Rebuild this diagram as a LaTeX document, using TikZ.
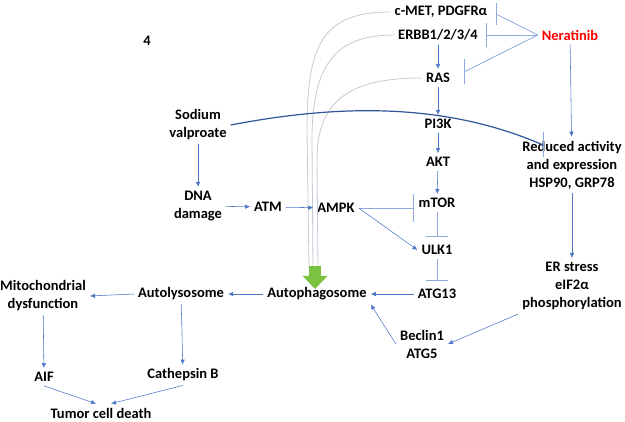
\documentclass[tikz,border=0pt]{standalone}
\usepackage{fontspec}
\setmainfont{Carlito}
\usepackage{tikz}
\usetikzlibrary{arrows.meta}
\definecolor{arrowblue}{HTML}{4A76C6}
\definecolor{inhblue}{HTML}{8EA9DB}
\definecolor{feedgray}{HTML}{C3CAD4}
\definecolor{valpblue}{HTML}{2F5597}
\definecolor{autogreen}{HTML}{7CC242}
\definecolor{nerared}{HTML}{FF0000}
\tikzstyle{lbl}=[inner sep=4pt,align=center,font=\fontsize{14.5}{18}\selectfont\bfseries]
\tikzstyle{arrow}=[-{Latex[length=5pt,width=4.5pt]},draw=arrowblue,line width=0.55]
\tikzstyle{inhib}=[draw=inhblue,line width=0.8]
\tikzstyle{feed}=[draw=feedgray,line width=0.8]
\tikzstyle{valp}=[draw=valpblue,line width=1.2]
\tikzstyle{bigarrow}=[draw=autogreen,line width=12,-{Triangle[width=24pt,length=13pt]}]

\begin{document}
\begin{tikzpicture}[x=1pt,y=-1pt]
 \useasboundingbox (0,0) rectangle (625,422);
 % labels
 \node [style=lbl] (four) at (147,41) {4};
 \node [style=lbl] (cmet) at (441,12) {c-MET, PDGFRα};
 \node [style=lbl] (erbb) at (438,35) {ERBB1/2/3/4};
 \node [style=lbl,text=nerared] (nera) at (570,35) {Neratinib};
 \node [style=lbl] (ras) at (438,78) {RAS};
 \node [style=lbl] (pi3k) at (438,124) {PI3K};
 \node [style=lbl] (akt) at (438,162) {AKT};
 \node [style=lbl] (mtor) at (437,203) {mTOR};
 \node [style=lbl] (ulk) at (437,250) {ULK1};
 \node [style=lbl] (atg13) at (437,294) {ATG13};
 \node [style=lbl] (beclin) at (422,344) {Beclin1\\ATG5};
 \node [style=lbl] (autoph) at (317,294) {Autophagosome};
 \node [style=lbl] (autol) at (181,294) {Autolysosome};
 \node [style=lbl] (mito) at (43,296) {Mitochondrial\\dysfunction};
 \node [style=lbl] (aif) at (44,377) {AIF};
 \node [style=lbl] (cath) at (183,375) {Cathepsin B};
 \node [style=lbl] (death) at (101,413) {Tumor cell death};
 \node [style=lbl] (sodium) at (198,125) {Sodium\\valproate};
 \node [style=lbl] (dna) at (198,206) {DNA\\damage};
 \node [style=lbl] (atm) at (268,207) {ATM};
 \node [style=lbl] (ampk) at (336,208) {AMPK};
 \node [style=lbl] (reduced) at (572,165) {Reduced activity\\and expression\\HSP90, GRP78};
 \node [style=lbl] (erstress) at (572,286) {ER stress\\eIF2α\\phosphorylation};
 % bar ends
 \coordinate (bcmet) at (496,14);
 \coordinate (berbb) at (486,35);
 \coordinate (bras) at (464,72);
 \coordinate (bmtor) at (413,208);
 \coordinate (bulk) at (437,236);
 \coordinate (batg) at (437,280);
 \coordinate (bhsp) at (543,145);
 \coordinate (gtop) at (315,266);
 \coordinate (gtip) at (315,289);
 % feedback into autophagosome
 \draw [style=feed] (cmet.west) .. controls (322,12) and (307,45) .. (307,130) -- (309,268);
 \draw [style=feed] (erbb.west) .. controls (335,35) and (312,65) .. (312,140) -- (313,268);
 \draw [style=feed] (ras.west) .. controls (350,78) and (317,100) .. (317,160) -- (318,268);
 \draw [style=bigarrow] (gtop) to (gtip);
 % inhibitions
 \draw [style=inhib] (nera.west) to (bcmet);
 \draw [style=inhib] (nera.west) to (berbb);
 \draw [style=inhib] (nera.west) to (bras);
 \draw [style=inhib] ([yshift=11pt]bcmet) to ([yshift=-11pt]bcmet);
 \draw [style=inhib] ([yshift=12pt]berbb) to ([yshift=-12pt]berbb);
 \draw [style=inhib] ([yshift=12.5pt]bras) to ([yshift=-12.5pt]bras);
 \draw [style=inhib] (ampk.east) to (bmtor);
 \draw [style=inhib] ([yshift=14pt]bmtor) to ([yshift=-14pt]bmtor);
 \draw [style=inhib] (mtor.south) to (bulk);
 \draw [style=inhib] ([xshift=-11pt]bulk) to ([xshift=11pt]bulk);
 \draw [style=inhib] (ulk.south) to (batg);
 \draw [style=inhib] ([xshift=-11pt]batg) to ([xshift=11pt]batg);
 \draw [style=inhib] ([yshift=12.5pt]bhsp) to ([yshift=-12.5pt]bhsp);
 \draw [style=valp] (sodium.east) .. controls (330,106) and (440,100) .. (bhsp);
 % activations
 \draw [style=arrow] (erbb) to (ras);
 \draw [style=arrow] (ras) to (pi3k);
 \draw [style=arrow] (pi3k) to (akt);
 \draw [style=arrow] (akt) to (mtor);
 \draw [style=arrow] (nera) to (reduced);
 \draw [style=arrow] (reduced) to (erstress);
 \draw [style=arrow] (erstress.south west) to (beclin.east);
 \draw [style=arrow] (beclin.west) to (autoph.south east);
 \draw [style=arrow] (atg13) to (autoph);
 \draw [style=arrow] (ampk.east) to (ulk.west);
 \draw [style=arrow] (sodium) to (dna);
 \draw [style=arrow] (dna) to (atm);
 \draw [style=arrow] (atm) to (ampk);
 \draw [style=arrow] (autoph) to (autol);
 \draw [style=arrow] (autol.west) to (mito.east);
 \draw [style=arrow] (autol) to (cath);
 \draw [style=arrow] (mito) to (aif);
 \draw [style=arrow] (aif.south) to ([xshift=-5pt]death.north);
 \draw [style=arrow] (cath.south) to ([xshift=10pt]death.north);
\end{tikzpicture}
\end{document}
